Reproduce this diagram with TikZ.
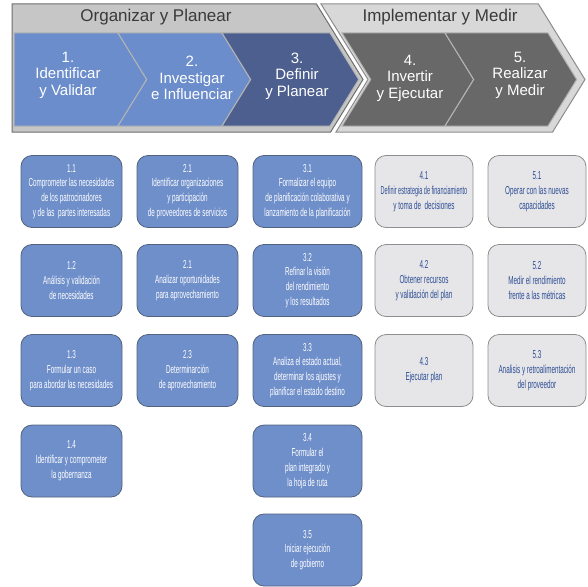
\documentclass[tikz,border=0pt]{standalone}
\usepackage{fontspec}
\setmainfont{Liberation Sans}
\newfontfamily\narrowfont[FakeStretch=0.55]{Liberation Sans}
\newfontfamily\narrowerfont[FakeStretch=0.48]{Liberation Sans}

\definecolor{panelA}{HTML}{C6C6C6}
\definecolor{panelB}{HTML}{D8D8D8}
\definecolor{panelAedge}{HTML}{6E6E6E}
\definecolor{panelBedge}{HTML}{8C8C8C}
\definecolor{sepgray}{HTML}{B4B4B4}
\definecolor{phaseblue}{HTML}{6B8DCB}
\definecolor{phasedark}{HTML}{4C5F8E}
\definecolor{phasegray}{HTML}{686868}
\definecolor{titlegray}{HTML}{3A3A3A}
\definecolor{taskblue}{HTML}{6F8FCA}
\definecolor{taskblueedge}{HTML}{52627F}
\definecolor{taskgray}{HTML}{E6E6E8}
\definecolor{taskgrayedge}{HTML}{8E8E8E}
\definecolor{tasktext}{HTML}{2C4C94}

\begin{document}
\begin{tikzpicture}[x=1pt, y=-1pt,
  panelleft/.style={fill=panelA, draw=panelAedge, line width=1pt, line join=miter},
  panelright/.style={fill=panelB, draw=panelBedge, line width=1pt, line join=miter},
  chev/.style={draw=sepgray, line width=1pt, line join=miter},
  phaselabel/.style={text=white, align=center, inner sep=0pt,
    font=\fontsize{15}{16.5}\selectfont},
  grouptitle/.style={text=titlegray, inner sep=0pt, font=\fontsize{17}{20}\selectfont},
  taskbox/.style={rounded corners=11pt, minimum height=72pt, align=center,
    inner sep=0pt, line width=0.8pt, font=\narrowfont\fontsize{11.5}{14.8}\selectfont},
  bluetask/.style={taskbox, fill=taskblue, draw=taskblueedge, text=white},
  graytask/.style={taskbox, fill=taskgray, draw=taskgrayedge, text=tasktext},
  wA/.style={minimum width=101pt},
  wB/.style={minimum width=109pt},
  wC/.style={minimum width=98pt}]

\useasboundingbox (0,0) rectangle (588,586);

% ---- phase header: Organizar y Planear ----
\path[panelleft] (12,4) -- (316.4,4) -- (363,79.5) -- (330.6,132) -- (12,132) -- cycle;
\path[chev, fill=phaseblue] (14,33) -- (118,33) -- (146.7,79.5) -- (118,126) -- (14,126) -- cycle;
\path[chev, fill=phaseblue] (118,33) -- (222,33) -- (250.7,79.5) -- (222,126) -- (118,126) -- (146.7,79.5) -- cycle;
\path[chev, fill=phasedark] (222,33) -- (330,33) -- (358.7,79.5) -- (330,126) -- (222,126) -- (250.7,79.5) -- cycle;
\node[grouptitle] (tOrg) at (156,17) {Organizar y Planear};

% ---- phase header: Implementar y Medir ----
\path[panelright] (321,4) -- (538.4,4) -- (585,79.5) -- (552.6,132) -- (336,132) -- (368,79.5) -- cycle;
\path[chev, fill=phasegray] (342,33) -- (445,33) -- (473.7,79.5) -- (445,126) -- (342,126) -- (370.7,79.5) -- cycle;
\path[chev, fill=phasegray] (445,33) -- (548,33) -- (576.7,79.5) -- (548,126) -- (445,126) -- (473.7,79.5) -- cycle;
\node[grouptitle] (tImp) at (440,17) {Implementar y Medir};

% ---- phase labels ----
\node[phaselabel] (p1) at (68,75) {1.\\Identificar\\y Validar};
\node[phaselabel] (p2) at (192,78) {2.\\Investigar\\e Influenciar};
\node[phaselabel] (p3) at (297,76) {3.\\Definir\\y Planear};
\node[phaselabel] (p4) at (410,78) {4.\\Invertir\\y Ejecutar};
\node[phaselabel] (p5) at (520,75) {5.\\Realizar\\y Medir};

% ---- column 1 ----
\node[bluetask, wA] (t11) at (71.5,191.5) {1.1\\Comprometer las necesidades\\de los patrocinadores\\y de las\ \ partes interesadas};
\node[bluetask, wA] (t12) at (71.5,280.5) {1.2\\Análisis y validación\\de necesidades};
\node[bluetask, wA] (t13) at (71.5,370.5) {1.3\\Formular un caso\\para abordar las necesidades};
\node[bluetask, wA] (t14) at (71.5,461) {1.4\\Identificar y comprometer\\la gobernanza};

% ---- column 2 ----
\node[bluetask, wA] (t21) at (187.5,191.5) {2.1\\Identificar organizaciones\\y participación\\de proveedores de servicios};
\node[bluetask, wA] (t22) at (187.5,280.5) {2.1\\Analizar oportunidades\\para aprovechamiento};
\node[bluetask, wA] (t23) at (187.5,370.5) {2.3\\Determinarción\\de aprovechamiento};

% ---- column 3 ----
\node[bluetask, wB] (t31) at (307.5,191.5) {3.1\\Formalizar el equipo\\de planificación colaborativa y\\lanzamiento de la planificación};
\node[bluetask, wB] (t32) at (307.5,280.5) {3.2\\Refinar la visión\\del rendimiento\\y los resultados};
\node[bluetask, wB] (t33) at (307.5,370.5) {3.3\\Analiza el estado actual,\\determinar los ajustes y\\planificar el estado destino};
\node[bluetask, wB] (t34) at (307.5,461) {3.4\\Formular el\\plan integrado y\\la hoja de ruta};
\node[bluetask, wB] (t35) at (307.5,550) {3.5\\Iniciar ejecución\\de gobierno};

% ---- column 4 ----
\node[graytask, wC] (t41) at (424,191.5) {4.1\\{\narrowerfont Definir estrategia de financiamiento}\\y toma de\ \ decisiones};
\node[graytask, wC] (t42) at (424,280.5) {4.2\\Obtener recursos\\y validación del plan};
\node[graytask, wC] (t43) at (424,370.5) {4.3\\Ejecutar plan};

% ---- column 5 ----
\node[graytask, wC] (t51) at (537,191.5) {5.1\\Operar con las nuevas\\capacidades};
\node[graytask, wC] (t52) at (537,280.5) {5.2\\Medir el rendimiento\\frente a las métricas};
\node[graytask, wC] (t53) at (537,370.5) {5.3\\Analisis y retroalimentación\\del proveedor};

\end{tikzpicture}
\end{document}
